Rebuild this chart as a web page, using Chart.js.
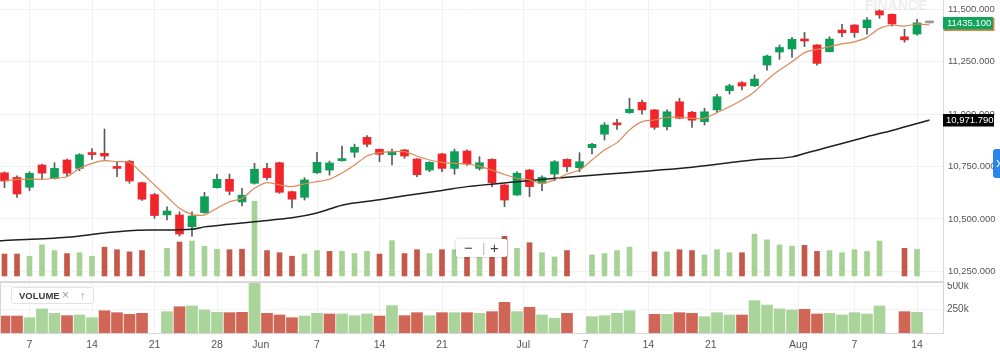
<!DOCTYPE html>
<html>
<head>
<meta charset="utf-8">
<script src="https://cdn.jsdelivr.net/npm/chart.js@4.4.0/dist/chart.umd.min.js"></script>
<style>
  body { margin: 0; background: #fff; font-family: "Liberation Sans", Arial, sans-serif; }
  #wrap { position: relative; width: 1000px; height: 354px; overflow: hidden; }
  #top { position: absolute; left: 0; top: 0; width: 1000px; height: 282px; }
  #bot { position: absolute; left: 0; top: 282px; width: 1000px; height: 72px; }
  .zoomctl { position: absolute; left: 456px; top: 239px; width: 51px; height: 18px; background: #fff;
             box-shadow: 0 0 3px rgba(0,0,0,.25); border-radius: 2px; color: #444; font-size: 15px; }
  .zoomctl span { position: absolute; top: 0; line-height: 18px; }
  .volbox { position: absolute; left: 11px; top: 287px; width: 81px; height: 15px; background: #fff;
            border: 1px solid #e2e2e2; border-radius: 3px; font-size: 9.5px; color: #333; }
  .volbox span { position: absolute; top: 0; line-height: 15px; }
</style>
</head>
<body>
<div id="wrap">
  <div id="top"><canvas id="main"></canvas></div>
  <div id="bot"><canvas id="vol"></canvas></div>
  <div class="zoomctl"><span style="left:8px">&minus;</span><span style="left:26px;color:#bbb;font-size:13px">|</span><span style="left:34px">+</span></div>
  <div class="volbox"><span style="left:7px;font-weight:bold;color:#3a3a3a">VOLUME</span><span style="left:50px;color:#999;font-size:12px">&times;</span><span style="left:68px;color:#999;font-size:11px">&uarr;</span></div>
</div>
<script>
// one trading session per slot (3 May .. 15 Aug)
const openP  = [10720,10698,10651,10757,10694,10781,10741,10816,10813,10749,10775,10673,10616,10519,10519,10463,10530,10649,10689,10581,
                10670,10741,10768,10630,10603,10720,10733,10778,10818,10889,10832,10806,10829,10786,10733,10810,10741,10824,10741,10784,
                10662,10614,10733,10670,10714,10784,10744,10840,10904,10956,11007,11056,11020,10940,11059,11009,10964,11020,11112,11150,
                11135,11234,11296,11311,11358,11330,11298,11401,11425,11412,11493,11476,11369,11382,11435.1];
const highP  = [10724,10705,10725,10762,10768,10786,10811,10835,10929,10773,10779,10676,10622,10558,10534,10534,10627,10713,10714,10646,
                10765,10765,10771,10633,10697,10818,10776,10848,10857,10897,10834,10833,10832,10788,10773,10813,10833,10829,10797,10787,
                10664,10725,10736,10706,10778,10787,10816,10861,10959,10975,11075,11067,11022,11020,11075,11013,11028,11094,11142,11155,
                11187,11282,11330,11366,11390,11332,11369,11428,11427,11460,11497,11478,11405,11452,11435.1];
const lowP   = [10649,10603,10635,10689,10690,10705,10730,10784,10784,10701,10670,10588,10503,10495,10418,10418,10527,10647,10615,10562,
                10666,10686,10622,10553,10590,10717,10709,10776,10794,10844,10773,10757,10789,10701,10725,10725,10713,10755,10733,10654,
                10558,10612,10606,10635,10682,10725,10725,10810,10876,10927,11004,11000,10927,10924,10978,10937,10948,11011,11096,11115,
                11131,11210,11261,11271,11322,11234,11296,11369,11366,11381,11457,11420,11343,11377,11435.1];
const closeP = [10681,10619,10717.5,10718.5,10741,10718,10806,10807,10800,10741,10681,10594,10516,10538,10428,10514,10606,10689,10632,10613,
                10737,10697,10627,10594,10686,10770,10767,10786,10842,10856,10808,10821,10800,10711,10770,10741,10821,10762,10768,10673,
                10590,10718,10654,10698,10773,10749,10773,10856,10948,10949,11023,11020,10937,11011,10980,10971,11011,11083,11135,11134,
                11167,11277,11318,11357,11349,11242,11358,11388,11389,11449,11473,11430,11354,11435.1,11435.1];
// volume in thousands, null = no print
const volK   = [182,182,164,258,211,186,193,164,239,218,200,211,null,229,282,290,247,222,218,222,
                620,211,193,164,182,211,204,204,186,204,182,293,186,218,186,218,218,218,211,229,
                329,229,276,193,158,211,null,175,186,211,239,null,200,200,218,211,175,218,193,193,
                347,300,258,247,254,204,211,193,218,204,290,null,229,222,null];
// short moving average (orange), one reading per slot
const maShort = [10681,10689,10690,10689,10694,10701,10741,10765,10778,10773,10770,10718,10662,10606,10551,10522,10519,10551,10582,10598,
                 10646,10673,10662,10654,10667,10678,10689,10719,10757,10800,10816,10821,10821,10800,10781,10770,10765,10762,10752,10733,
                 10712,10694,10686,10670,10686,10714,10733,10781,10829,10864,10924,10964,10972,10985,10985,10980,10980,11007,11035,11067,
                 11107,11163,11210,11250,11293,11309,11322,11335,11345,11366,11409,11425,11420,11430,11425];
// long moving average (black), read at these slots
const maLongAt  = [-1,0,3,5,8,10,12,15,16,18,20,23,25,27,30,32,35,37,41,45,50,55,60,63,64,65,67,69,71,74];
const maLongVal = [10392,10397,10405,10412,10433,10444,10447,10451,10462,10474,10487,10505,10528,10565,10591,10610,10636,10654,10677,10699,
                   10722,10746,10782,10796,10812,10828,10860,10892,10922,10971.79];

const tickPos  = [2,7,12,17,20.5,25,30,35,41.5,46.5,51.5,56.5,63.5,68,73];
const tickText = ['7','14','21','28','Jun','7','14','21','Jul','7','14','21','Aug','7','14'];
const priceTicks = [10250,10500,10750,11000,11250,11500];
const volTicks = [250000,500000];

const UP = '#0b9f58', DN = '#f2262a', FLAT = '#9a9a9a';
const VUP = '#a9d49a', VDN = '#cf6656';
const VUP2 = '#a6d296', VDN2 = '#c4584a';
const FONT = '"Liberation Sans", Arial, sans-serif';
const XMIN = -0.36, XMAX = 75.08;

const bodies = [], bodyCol = [], wicks = [];
closeP.forEach(function (c, i) {
  bodies.push({x: i, y: [openP[i], c]});
  bodyCol.push(c > openP[i] ? UP : (c < openP[i] ? DN : FLAT));
  wicks.push({x: i, y: [lowP[i], highP[i]]});
});
const vols = [], volCol = [], volCol2 = [];
volK.forEach(function (v, i) {
  if (v == null) return;
  var up = i === 0 ? closeP[0] >= openP[0] : closeP[i] >= closeP[i - 1];
  vols.push({x: i, y: v * 1000});
  volCol.push(up ? VUP : VDN);
  volCol2.push(up ? VUP2 : VDN2);
});
const shortLine = maShort.map(function (v, i) { return {x: i, y: v}; });
const longLine = maLongAt.map(function (s, i) { return {x: s, y: maLongVal[i]}; });

function fmtPrice(v) {
  return v.toLocaleString('en-US', {minimumFractionDigits: 3, maximumFractionDigits: 3});
}
function setTicks(arr) {
  return function (s) { s.ticks = arr.map(function (v) { return {value: v}; }); };
}

const mainDecor = {
  id: 'mainDecor',
  beforeDatasetsDraw: function (chart) {
    var ctx = chart.ctx;
    ctx.save();
    ctx.font = 'bold 14px ' + FONT;
    ctx.fillStyle = 'rgba(0,0,0,0.07)';
    ctx.textBaseline = 'alphabetic';
    ctx.fillText('FINANCE', 865, 9.5);
    ctx.restore();
  },
  afterDraw: function (chart) {
    var ctx = chart.ctx, a = chart.chartArea, y = chart.scales.y;
    ctx.save();
    ctx.strokeStyle = '#dadada';
    ctx.lineWidth = 1;
    ctx.beginPath();
    ctx.moveTo(0, 281.5); ctx.lineTo(a.right + 1, 281.5);
    ctx.moveTo(a.right + 0.5, 0); ctx.lineTo(a.right + 0.5, 282);
    ctx.stroke();

    ctx.font = '9.5px ' + FONT;
    ctx.textBaseline = 'middle';
    // last close tag
    var last = closeP[closeP.length - 1];
    var yc = Math.round(y.getPixelForValue(last));
    ctx.fillStyle = '#e8843c';
    ctx.fillRect(a.right + 1, yc - 5, 50.5, 13);
    ctx.fillStyle = '#12a35c';
    ctx.fillRect(a.right, yc - 6, 50, 12.5);
    ctx.fillStyle = '#fff';
    ctx.fillText(last.toFixed(3), a.right + 4, yc + 0.5);
    // long average tag
    var lv = maLongVal[maLongVal.length - 1];
    var yl = Math.round(y.getPixelForValue(lv));
    ctx.fillStyle = '#000';
    ctx.fillRect(a.right, yl - 6, 51, 12.5);
    ctx.fillStyle = '#fff';
    ctx.fillText(fmtPrice(lv), a.right + 3, yl + 0.5);
    // side tab
    ctx.fillStyle = '#2b84ea';
    ctx.beginPath();
    ctx.roundRect(993, 149, 14, 29, 3);
    ctx.fill();
    ctx.strokeStyle = '#fff';
    ctx.lineWidth = 1.2;
    ctx.beginPath();
    ctx.moveTo(997, 160); ctx.lineTo(999.5, 163.5); ctx.lineTo(997, 167);
    ctx.stroke();
    ctx.restore();
  }
};

const volDecor = {
  id: 'volDecor',
  afterDraw: function (chart) {
    var ctx = chart.ctx, a = chart.chartArea;
    ctx.save();
    ctx.strokeStyle = '#d6d6d6';
    ctx.lineWidth = 1;
    ctx.strokeRect(0.5, 0.5, a.right, a.bottom);
    ctx.restore();
  }
};

new Chart(document.getElementById('main'), {
  type: 'bar',
  data: {
    datasets: [
      {type: 'line', data: shortLine, borderColor: '#dd8757', borderWidth: 1.2, pointRadius: 0, tension: 0.25, order: 0},
      {type: 'line', data: longLine, borderColor: '#1f1f1f', borderWidth: 1.5, pointRadius: 0, cubicInterpolationMode: 'monotone', order: 0},
      {data: bodies, backgroundColor: bodyCol, barThickness: 8, minBarLength: 2, grouped: false, order: 1},
      {data: wicks, backgroundColor: '#5a5a5a', barThickness: 1, grouped: false, order: 2},
      {data: vols, yAxisID: 'vo', backgroundColor: volCol2, barThickness: 5, grouped: false, order: 3}
    ]
  },
  options: {
    responsive: true, maintainAspectRatio: false, animation: false, devicePixelRatio: 1,
    layout: {padding: 0},
    plugins: {legend: {display: false}, tooltip: {enabled: false}},
    scales: {
      x: {
        type: 'linear', min: XMIN, max: XMAX, offset: false,
        afterBuildTicks: setTicks(tickPos),
        afterFit: function (s) { s.height = 0; s.paddingLeft = 0; s.paddingRight = 0; },
        ticks: {display: false},
        grid: {color: '#f1f1f1', drawTicks: false, offset: false},
        border: {display: false}
      },
      y: {
        position: 'right', min: 10199, max: 11544.4,
        afterBuildTicks: setTicks(priceTicks),
        afterFit: function (s) { s.width = 57; s.paddingTop = 0; s.paddingBottom = 0; },
        ticks: {callback: fmtPrice, color: '#555', padding: 5, font: {family: FONT, size: 9.5}},
        grid: {color: '#f1f1f1', drawTicks: false},
        border: {display: false}
      },
      vo: {display: false, min: -50000, max: 2290000}
    }
  },
  plugins: [mainDecor]
});

new Chart(document.getElementById('vol'), {
  type: 'bar',
  data: {
    datasets: [
      {data: vols, backgroundColor: volCol, barThickness: 11, grouped: false}
    ]
  },
  options: {
    responsive: true, maintainAspectRatio: false, animation: false, devicePixelRatio: 1,
    layout: {padding: 0},
    plugins: {legend: {display: false}, tooltip: {enabled: false}},
    scales: {
      x: {
        type: 'linear', min: XMIN, max: XMAX, offset: false,
        afterBuildTicks: setTicks(tickPos),
        afterFit: function (s) { s.height = 21; s.paddingLeft = 0; s.paddingRight = 0; },
        ticks: {
          autoSkip: false, maxRotation: 0, padding: 6, color: '#555', font: {family: FONT, size: 10.5},
          callback: function (v, i) { return tickText[i]; }
        },
        grid: {color: '#f1f1f1', drawTicks: false, offset: false},
        border: {display: false}
      },
      y: {
        position: 'right', min: 0, max: 547000,
        afterBuildTicks: setTicks(volTicks),
        afterFit: function (s) { s.width = 57; s.paddingTop = 0; s.paddingBottom = 0; },
        ticks: {callback: function (v) { return (v / 1000) + 'k'; }, color: '#555', padding: 4, font: {family: FONT, size: 10}},
        grid: {color: '#f4f4f4', drawTicks: false},
        border: {display: false}
      }
    }
  },
  plugins: [volDecor]
});
</script>
</body>
</html>
